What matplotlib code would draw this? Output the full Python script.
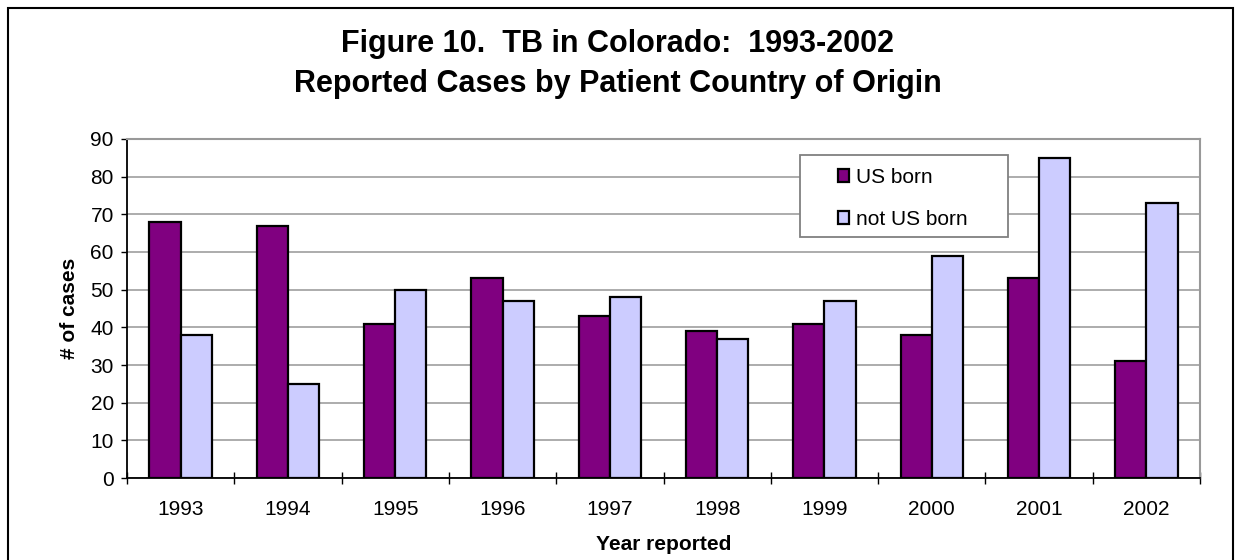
import numpy as np
import matplotlib
matplotlib.use("Agg")
import matplotlib.pyplot as plt
from matplotlib.patches import Rectangle
from matplotlib.ticker import FixedLocator, NullFormatter

plt.rcParams['font.family'] = ['Liberation Sans', 'DejaVu Sans']

years = ['1993', '1994', '1995', '1996', '1997', '1998', '1999', '2000', '2001', '2002']
us_born = [68, 67, 41, 53, 43, 39, 41, 38, 53, 31]
not_us_born = [38, 25, 50, 47, 48, 37, 47, 59, 85, 73]

fig = plt.figure(figsize=(12.35, 5.6), dpi=100)
ax = fig.add_axes([0.1028, 0.1464, 0.8689, 0.6054])

x = np.arange(len(years))
w = 0.29
ax.bar(x - w / 2, us_born, w, color='#800080', edgecolor='black', linewidth=1.6,
       label='US born', zorder=3)
ax.bar(x + w / 2, not_us_born, w, color='#CCCCFF', edgecolor='black', linewidth=1.6,
       label='not US born', zorder=3)

ax.set_xlim(-0.5, len(years) - 0.5)
ax.set_ylim(0, 90)
ax.set_yticks(range(0, 91, 10))
ax.set_xticks(x)
ax.set_xticklabels(years)
ax.xaxis.set_minor_locator(FixedLocator(np.arange(-0.5, len(years), 1.0)))
ax.xaxis.set_minor_formatter(NullFormatter())
ax.tick_params(axis='x', which='major', length=0, pad=16, labelsize=15)
ax.tick_params(axis='x', which='minor', direction='inout', length=8, width=1)
ax.tick_params(axis='y', direction='out', length=4.5, width=1, pad=5, labelsize=15)

ax.yaxis.grid(True, color='#a6a6a6', linewidth=1.3, zorder=0)
ax.set_axisbelow(True)
for s in ['left', 'bottom']:
    ax.spines[s].set_color('black')
    ax.spines[s].set_linewidth(1.3)
for s in ['top', 'right']:
    ax.spines[s].set_color('#999999')
    ax.spines[s].set_linewidth(1.5)

ax.set_ylabel('# of cases', fontsize=15, fontweight='bold', labelpad=8)
ax.set_xlabel('Year reported', fontsize=15, fontweight='bold', labelpad=11)

# legend box drawn separately so its size matches the original
ax.add_patch(Rectangle((0.627, 0.711), 0.194, 0.242, transform=ax.transAxes,
                       facecolor='white', edgecolor='#808080', linewidth=1.3,
                       zorder=4))
leg = ax.legend(loc='upper left', bbox_to_anchor=(0.6626, 0.915), fontsize=15,
                frameon=False, borderpad=0, labelspacing=1.1,
                handlelength=0.55, handleheight=0.55, handletextpad=0.3,
                borderaxespad=0)
leg.set_zorder(5)

fig.text(0.5, 0.921, 'Figure 10.  TB in Colorado:  1993-2002', ha='center', va='center',
         fontsize=22, fontweight='bold')
fig.text(0.5, 0.85, 'Reported Cases by Patient Country of Origin', ha='center', va='center',
         fontsize=22, fontweight='bold')

# outer frame
fig.patches.append(Rectangle((8 / 1235, -0.01), 1225 / 1235, 1 - 8 / 560 + 0.01,
                             transform=fig.transFigure, fill=False,
                             edgecolor='black', linewidth=1.5))

fig.savefig('out.png', dpi=100)
